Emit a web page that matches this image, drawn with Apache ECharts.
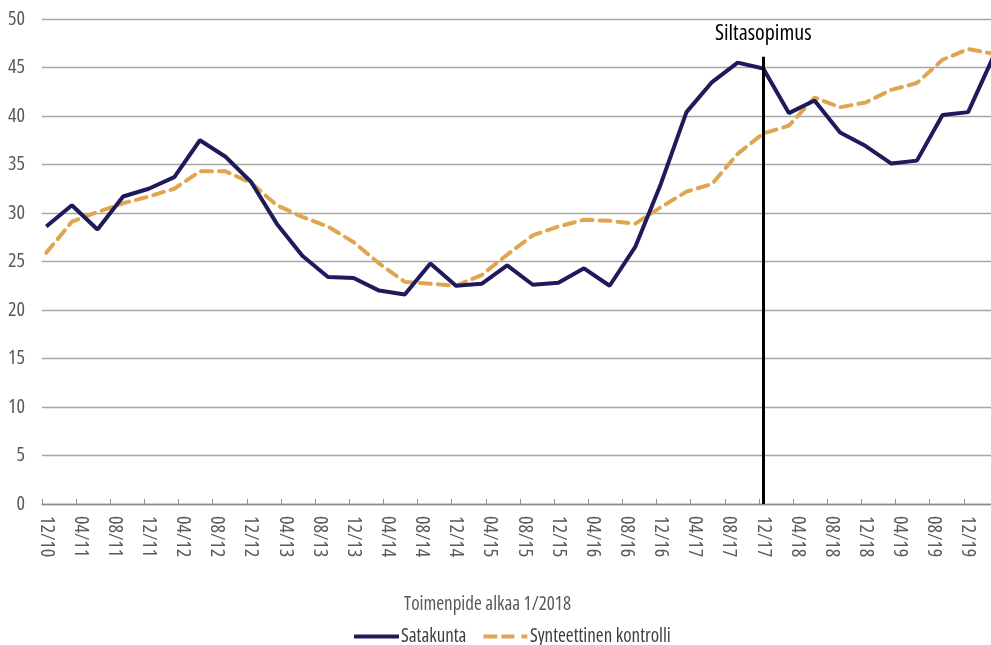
<!DOCTYPE html>
<html>
<head>
<meta charset="utf-8">
<script src="https://cdn.jsdelivr.net/npm/echarts@6/dist/echarts.min.js"></script>
<style>
html,body{margin:0;padding:0;background:#fff;overflow:hidden;width:991px;height:645px;}
#chart{width:998px;height:645px;}
</style>
</head>
<body>
<div id="chart"></div>
<script>
// Quarterly observation dates (MM/YY)
var quarters = ['12/10','03/11','06/11','09/11','12/11','03/12','06/12','09/12','12/12','03/13','06/13','09/13','12/13','03/14','06/14','09/14','12/14','03/15','06/15','09/15','12/15','03/16','06/16','09/16','12/16','03/17','06/17','09/17','12/17','03/18','06/18','09/18','12/18','03/19','06/19','09/19','12/19','03/20'];
var satakunta = [28.6,30.8,28.3,31.7,32.5,33.7,37.5,35.8,33.2,28.9,25.6,23.4,23.3,22.0,21.6,24.8,22.5,22.7,24.6,22.6,22.8,24.3,22.5,26.5,33.0,40.4,43.5,45.5,44.9,40.3,41.6,38.3,36.9,35.1,35.4,40.1,40.4,46.2];
var synteettinen = [25.9,29.1,30.1,31.0,31.7,32.5,34.3,34.3,33.1,30.8,29.6,28.6,27.0,24.8,22.9,22.7,22.5,23.6,25.7,27.7,28.6,29.3,29.2,28.9,30.6,32.2,33.0,36.1,38.2,39.0,41.9,40.9,41.4,42.7,43.4,45.8,46.9,46.4];
var seriesNames = ['Satakunta','Synteettinen kontrolli'];
var eventCategory = '12/17';
var eventLabel = 'Siltasopimus';
var xTitle = 'Toimenpide alkaa 1/2018';
var yMin = 0, yMax = 50, yStep = 5;

// monthly axis categories from 12/10 to 03/20
var months = [];
(function(){
  var m = 12, y = 10;
  while (true) {
    months.push((m < 10 ? '0' + m : '' + m) + '/' + (y < 10 ? '0' + y : '' + y));
    if (m === 3 && y === 20) break;
    m++; if (m > 12) { m = 1; y++; }
  }
})();

function pairs(vals){ return quarters.map(function(q,i){ return [q, vals[i]]; }); }

var FONT = '"Open Sans", sans-serif';
var COND = 'condensed';        // goes into the font-weight slot -> "condensed 19px Open Sans"
var NAVY = '#1e1b5c', GOLD = '#dfa64f';
var chart = echarts.init(document.getElementById('chart'), null, {renderer:'canvas'});
chart.setOption({
  animation: false,
  backgroundColor: '#fff',
  textStyle: {fontFamily: FONT, fontWeight: COND},
  title: {
    text: xTitle,
    left: 399, top: 590,
    textStyle: {fontFamily: FONT, fontSize: 19, fontWeight: COND, color: '#595959'}
  },
  legend: {
    left: 349, top: 622,
    itemWidth: 45, itemHeight: 4, itemGap: 17,
    data: [
      {name: seriesNames[0], icon: 'rect'},
      {name: seriesNames[1], icon: 'path://M0,0h14v4h-14z M18,0h13v4h-13z M38,0h6v4h-6z'}
    ],
    textStyle: {fontFamily: FONT, fontSize: 19, fontWeight: COND, color: '#404040', padding: [0,0,0,-3]}
  },
  grid: {left: 42, right: 0, top: 19, bottom: 141, containLabel: false},
  xAxis: {
    type: 'category',
    data: months,
    boundaryGap: true,
    axisLine: {lineStyle: {color: '#8c8c8c', width: 1.3}},
    axisTick: {show: true, interval: 3, inside: true, length: 5, lineStyle: {color: '#8c8c8c'}},
    axisLabel: {interval: 3, rotate: -90, margin: 12, fontFamily: FONT, fontWeight: COND, fontSize: 20, color: '#595959'},
    splitLine: {show: false}
  },
  yAxis: {
    type: 'value',
    min: yMin, max: yMax, interval: yStep,
    axisLine: {show: false},
    axisTick: {show: false},
    axisLabel: {margin: 17, fontFamily: FONT, fontWeight: COND, fontSize: 20, color: '#595959'},
    splitLine: {lineStyle: {color: '#a6a6a6', width: 1.3}}
  },
  series: [
    {
      name: seriesNames[0], type: 'line', data: pairs(satakunta),
      symbol: 'none', z: 3,
      lineStyle: {color: NAVY, width: 4},
      itemStyle: {color: NAVY},
      markLine: {
        silent: true, symbol: 'none', animation: false,
        lineStyle: {color: '#000', width: 3, type: 'solid'},
        label: {show: true, position: 'end', formatter: eventLabel, distance: 12,
                fontFamily: FONT, fontWeight: COND, fontSize: 22, color: '#000'},
        data: [[{xAxis: eventCategory, yAxis: 0}, {xAxis: eventCategory, yAxis: 46.1}]]
      }
    },
    {
      name: seriesNames[1], type: 'line', data: pairs(synteettinen),
      symbol: 'none', z: 2,
      lineStyle: {color: GOLD, width: 4, type: [11, 7], cap: 'round'},
      itemStyle: {color: GOLD}
    }
  ]
});
</script>
</body>
</html>
